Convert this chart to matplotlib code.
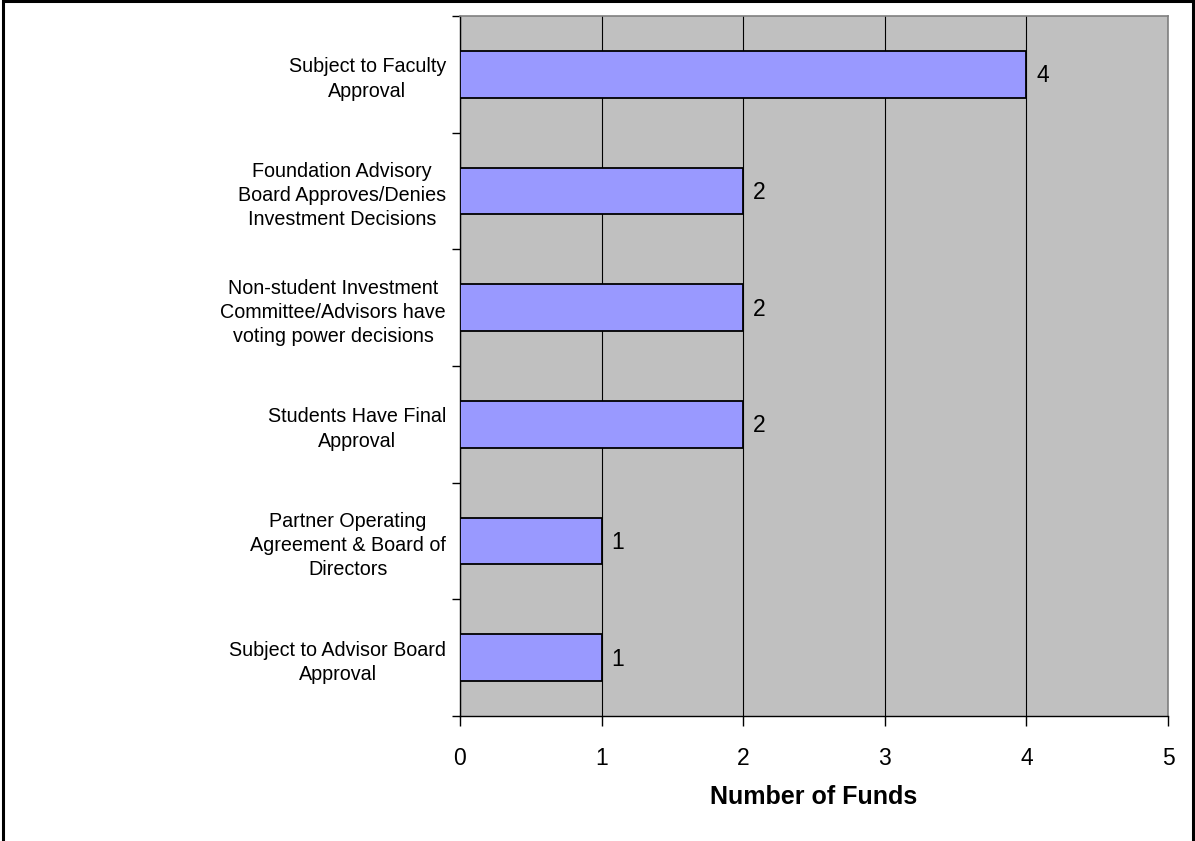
import matplotlib.pyplot as plt
from matplotlib.patches import Rectangle
import numpy as np

plt.rcParams['font.family'] = ['Liberation Sans', 'DejaVu Sans']

categories = [
    "Subject to Faculty\nApproval",
    "Foundation Advisory\nBoard Approves/Denies\nInvestment Decisions",
    "Non-student Investment\nCommittee/Advisors have\nvoting power decisions",
    "Students Have Final\nApproval",
    "Partner Operating\nAgreement & Board of\nDirectors",
    "Subject to Advisor Board\nApproval",
]
funds = [4, 2, 2, 2, 1, 1]
x_ticks = [0, 1, 2, 3, 4, 5]

fig = plt.figure(figsize=(11.95, 8.41), dpi=100)
ax = fig.add_axes([460 / 1195, 1 - 716 / 841, 708 / 1195, 700 / 841])

# outer frame around the whole chart
fig.patches.append(Rectangle((3 / 1195, -0.01), 1190 / 1195, 1 - 1 / 841 + 0.01,
                             transform=fig.transFigure, fill=False,
                             edgecolor='black', linewidth=2.2))

ax.set_facecolor('#C0C0C0')
pos = np.arange(len(categories))
ax.barh(pos, funds, height=0.4, color='#9999FF', edgecolor='black',
        linewidth=1.3, zorder=3)

for y, v in zip(pos, funds):
    ax.annotate(str(v), (v, y), xytext=(7, -1), textcoords='offset points',
                ha='left', va='center', fontsize=16.5, zorder=4)

ax.set_xlim(0, 5)
ax.set_ylim(len(categories) - 0.5, -0.5)
ax.set_xticks(x_ticks)
ax.set_xticklabels([str(t) for t in x_ticks], fontsize=16.5)
ax.xaxis.grid(True, color='black', linewidth=0.8, zorder=1)
ax.set_axisbelow(True)

ax.set_yticks(pos)
ax.set_yticklabels(categories, fontsize=14.2, multialignment='center',
                   linespacing=1.35)
ax.set_yticks(np.arange(-0.5, len(categories)), minor=True)
ax.tick_params(axis='y', which='major', length=0, pad=10)
ax.tick_params(axis='y', which='minor', length=6, width=1, direction='out')
ax.tick_params(axis='x', length=7, width=1, direction='out', pad=15)

for side in ['top', 'right']:
    ax.spines[side].set_color('#808080')
    ax.spines[side].set_linewidth(1.2)
for side in ['left', 'bottom']:
    ax.spines[side].set_color('black')
    ax.spines[side].set_linewidth(1)

ax.set_xlabel("Number of Funds", fontsize=18, fontweight='bold', labelpad=11)

fig.savefig("out.png", dpi=100)
